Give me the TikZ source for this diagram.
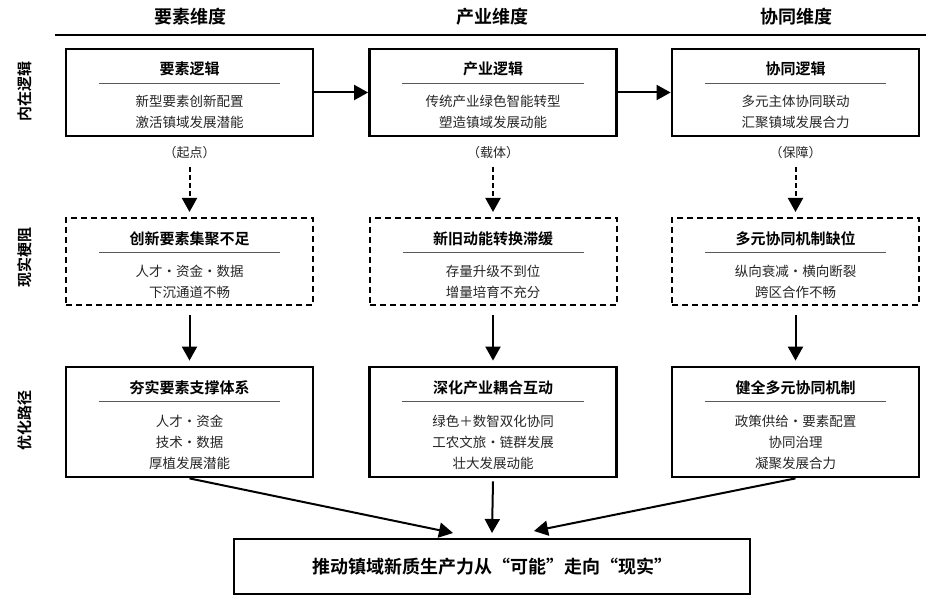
\documentclass[tikz,border=0pt]{standalone}
\usepackage{fontspec}
\setmainfont{Noto Sans CJK SC}[BoldFont={Noto Sans CJK SC Bold}]
\usetikzlibrary{arrows.meta,calc}
\tikzset{
  box/.style={draw,rectangle,line width=2.8pt,minimum width=247pt,inner sep=0pt},
  dbox/.style={box,line width=2pt,dash pattern=on 6pt off 4pt},
  hdr/.style={font=\bfseries\fontsize{18}{20}\selectfont},
  rowlab/.style={font=\bfseries\fontsize{15}{17}\selectfont,rotate=90},
  ttl/.style={font=\bfseries\fontsize{15}{18}\selectfont},
  body/.style={font=\fontsize{13.5}{21}\selectfont,align=center,text=black!85,inner sep=0pt},
  note/.style={font=\fontsize{13}{15}\selectfont,text=black!85},
  sepline/.style={line width=0.9pt,black!65},
  arr/.style={line width=2pt,-{Triangle[length=14pt,width=15pt]}},
  darr/.style={arr,dash pattern=on 5pt off 3pt},
}
\begin{document}
\begin{tikzpicture}[x=1pt,y=-1pt]
\useasboundingbox[fill=white] (0,0) rectangle (926,596);

% headers
\node[hdr] (h1) at (190,17) {要素维度};
\node[hdr] (h2) at (492,17) {产业维度};
\node[hdr] (h3) at (796,17) {协同维度};
\coordinate (hl) at (55,35);
\coordinate (hr) at (926,35);
\draw[line width=1.6pt] (hl) -- (hr);

% row labels
\node[rowlab] (r1) at (25,92) {内在逻辑};
\node[rowlab] (r2) at (25,257) {现实梗阻};
\node[rowlab] (r3) at (25,420) {优化路径};

% row 1 boxes
\node[box,minimum height=87pt] (b11) at (189.5,92.5) {};
\node[box,minimum height=87pt] (b12) at (493,92.5) {};
\node[box,minimum height=87pt] (b13) at (795.5,92.5) {};
% row 2 boxes
\node[dbox,minimum height=87pt] (b21) at (189.5,261.5) {};
\node[dbox,minimum height=87pt] (b22) at (493,261.5) {};
\node[dbox,minimum height=87pt] (b23) at (795.5,261.5) {};
% row 3 boxes
\node[box,minimum height=110pt] (b31) at (189.5,422) {};
\node[box,minimum height=110pt] (b32) at (493,422) {};
\node[box,minimum height=110pt] (b33) at (795.5,422) {};
% final box
\node[box,minimum width=516pt,minimum height=55pt,font=\bfseries\fontsize{18}{20}\selectfont] (fin) at (492,566.5) {推动镇域新质生产力从“可能”走向“现实”};

% row 1 contents
\node[ttl] (t11) at ($(b11.north)+(0,21)$) {要素逻辑};
\node[ttl] (t12) at ($(b12.north)+(0,21)$) {产业逻辑};
\node[ttl] (t13) at ($(b13.north)+(0,21)$) {协同逻辑};
\foreach \b in {b11,b12,b13,b21,b22,b23}{
  \draw[sepline] ($(\b.north west)+(34,35.5)$) -- ($(\b.north east)+(-34,35.5)$);
}
\foreach \b in {b31,b32,b33}{
  \draw[sepline] ($(\b.north west)+(34,36)$) -- ($(\b.north east)+(-34,36)$);
}
\node[body] (c11) at ($(b11.north)+(0,64.5)$) {新型要素创新配置\\激活镇域发展潜能};
\node[body] (c12) at ($(b12.north)+(0,64.5)$) {传统产业绿色智能转型\\塑造镇域发展动能};
\node[body] (c13) at ($(b13.north)+(0,64.5)$) {多元主体协同联动\\汇聚镇域发展合力};

% row 2 contents
\node[ttl] (t21) at ($(b21.north)+(0,22)$) {创新要素集聚不足};
\node[ttl] (t22) at ($(b22.north)+(0,22)$) {新旧动能转换滞缓};
\node[ttl] (t23) at ($(b23.north)+(0,22)$) {多元协同机制缺位};
\node[body] (c21) at ($(b21.north)+(0,65)$) {人才·资金·数据\\下沉通道不畅};
\node[body] (c22) at ($(b22.north)+(0,65)$) {存量升级不到位\\增量培育不充分};
\node[body] (c23) at ($(b23.north)+(0,65)$) {纵向衰减·横向断裂\\跨区合作不畅};

% row 3 contents
\node[ttl] (t31) at ($(b31.north)+(0,22)$) {夯实要素支撑体系};
\node[ttl] (t32) at ($(b32.north)+(0,22)$) {深化产业耦合互动};
\node[ttl] (t33) at ($(b33.north)+(0,22)$) {健全多元协同机制};
\node[body] (c31) at ($(b31.north)+(0,77)$) {人才·资金\\技术·数据\\厚植发展潜能};
\node[body] (c32) at ($(b32.north)+(0,77)$) {绿色＋数智双化协同\\工农文旅·链群发展\\壮大发展动能};
\node[body] (c33) at ($(b33.north)+(0,77)$) {政策供给·要素配置\\协同治理\\凝聚发展合力};

% notes
\node[note] (n1) at (189.5,153) {（起点）};
\node[note] (n2) at (493,153) {（载体）};
\node[note] (n3) at (795.5,153) {（保障）};

% horizontal arrows
\draw[arr] (b11.east) -- (b12.west);
\draw[arr] (b12.east) -- (b13.west);

% dashed arrows
\draw[darr] ($(n1.south)+(0,4)$) -- ($(b21.north)+(0,-5)$);
\draw[darr] ($(n2.south)+(0,4)$) -- ($(b22.north)+(0,-5)$);
\draw[darr] ($(n3.south)+(0,4)$) -- ($(b23.north)+(0,-5)$);

% row2 -> row3
\draw[arr] ($(b21.south)+(0,9)$) -- ($(b31.north)+(0,-5)$);
\draw[arr] ($(b22.south)+(0,9)$) -- ($(b32.north)+(0,-5)$);
\draw[arr] ($(b23.south)+(0,9)$) -- ($(b33.north)+(0,-5)$);

% to final
\coordinate (f1) at (453,533);
\coordinate (f2) at (492,533);
\coordinate (f3) at (534,531);
\draw[arr] (b31.south) -- (f1);
\draw[arr] ($(b32.south)+(0,3)$) -- (f2);
\draw[arr] (b33.south) -- (f3);
\end{tikzpicture}
\end{document}
